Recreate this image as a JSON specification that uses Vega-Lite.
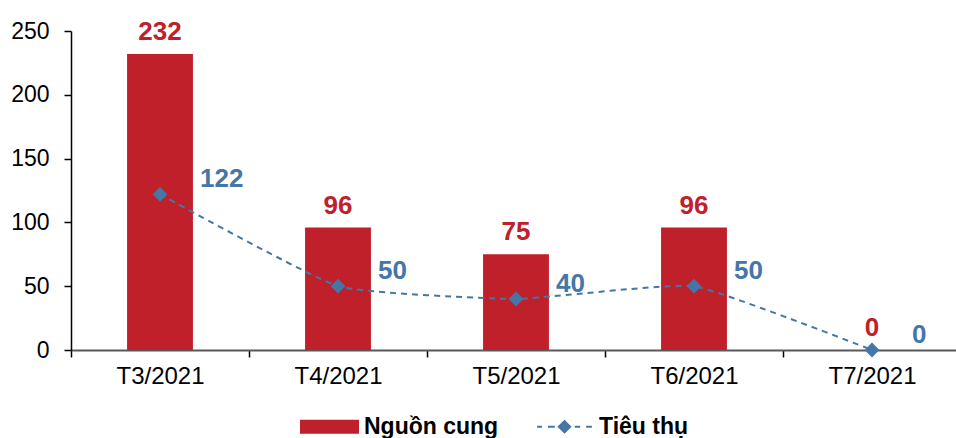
{
  "$schema": "https://vega.github.io/schema/vega-lite/v6.json",
  "width": 885,
  "height": 319,
  "autosize": {"type": "none"},
  "padding": {"left": 71, "top": 31, "right": 0, "bottom": 88},
  "background": "white",
  "config": {
    "view": {"stroke": null},
    "font": "Liberation Sans"
  },
  "data": {
    "values": [
      {"thang": "T3/2021", "chuoi": "Nguồn cung", "gia_tri": 232},
      {"thang": "T4/2021", "chuoi": "Nguồn cung", "gia_tri": 96},
      {"thang": "T5/2021", "chuoi": "Nguồn cung", "gia_tri": 75},
      {"thang": "T6/2021", "chuoi": "Nguồn cung", "gia_tri": 96},
      {"thang": "T7/2021", "chuoi": "Nguồn cung", "gia_tri": 0},
      {"thang": "T3/2021", "chuoi": "Tiêu thụ", "gia_tri": 122},
      {"thang": "T4/2021", "chuoi": "Tiêu thụ", "gia_tri": 50},
      {"thang": "T5/2021", "chuoi": "Tiêu thụ", "gia_tri": 40},
      {"thang": "T6/2021", "chuoi": "Tiêu thụ", "gia_tri": 50},
      {"thang": "T7/2021", "chuoi": "Tiêu thụ", "gia_tri": 0}
    ]
  },
  "encoding": {
    "x": {
      "field": "thang",
      "type": "nominal",
      "sort": null,
      "title": null,
      "scale": {"range": [0, 890], "paddingInner": 0, "paddingOuter": 0},
      "axis": {
        "labelAngle": 0,
        "labelFontSize": 24,
        "labelColor": "#000000",
        "labelPadding": 7,
        "domainColor": "#595959",
        "domainWidth": 2,
        "tickColor": "#000000",
        "tickWidth": 1.5,
        "tickSize": 7,
        "tickBand": "extent"
      }
    },
    "y": {
      "field": "gia_tri",
      "type": "quantitative",
      "title": null,
      "scale": {"domain": [0, 250], "nice": false},
      "axis": {
        "values": [0, 50, 100, 150, 200, 250],
        "grid": false,
        "labelFontSize": 23,
        "labelColor": "#000000",
        "labelPadding": 15,
        "domainColor": "#000000",
        "domainWidth": 1.5,
        "tickColor": "#000000",
        "tickWidth": 1.5,
        "tickSize": 7
      }
    },
    "color": {
      "field": "chuoi",
      "type": "nominal",
      "scale": {"domain": ["Nguồn cung", "Tiêu thụ"], "range": ["#C0202A", "#4576A8"]},
      "legend": {
        "title": null,
        "orient": "none",
        "direction": "horizontal",
        "legendX": 229,
        "legendY": 366,
        "symbolSize": 3249,
        "labelFontSize": 23,
        "labelFontWeight": "bold",
        "labelColor": "#000000",
        "labelOffset": 5,
        "columnPadding": 34,
        "encode": {
          "symbols": {
            "update": {
              "shape": {"signal": "datum.value === 'Nguồn cung' ? 'M-1,-0.21H1V0.21H-1Z' : 'M-0.96,0H-0.79M-0.58,0H-0.34M0.36,0H0.55M0.76,0H0.96M-0.2,0L0,-0.2L0.2,0L0,0.2Z'"},
              "fill": {"signal": "datum.value === 'Nguồn cung' ? '#C0202A' : '#4576A8'"},
              "stroke": {"signal": "datum.value === 'Nguồn cung' ? 'transparent' : '#4576A8'"},
              "strokeWidth": {"value": 2},
              "size": {"value": 3249},
              "opacity": {"value": 1}
            }
          }
        }
      }
    }
  },
  "layer": [
    {
      "transform": [{"filter": "datum.chuoi === 'Nguồn cung'"}],
      "mark": {"type": "bar", "width": {"band": 0.37}}
    },
    {
      "transform": [{"filter": "datum.chuoi === 'Nguồn cung'"}],
      "mark": {"type": "text", "fontSize": 26, "fontWeight": "bold", "baseline": "alphabetic", "dy": -14},
      "encoding": {"text": {"field": "gia_tri", "type": "quantitative"}, "color": {"value": "#C0202A"}}
    },
    {
      "transform": [{"filter": "datum.chuoi === 'Tiêu thụ'"}],
      "mark": {
        "type": "line",
        "interpolate": "cardinal",
        "tension": 0.6,
        "strokeWidth": 2,
        "strokeDash": [6, 5],
        "point": {"shape": "diamond", "size": 220, "filled": true}
      }
    },
    {
      "transform": [{"filter": "datum.chuoi === 'Tiêu thụ'"}],
      "mark": {"type": "text", "fontSize": 26, "fontWeight": "bold", "align": "left", "baseline": "middle", "dx": 40, "dy": -15},
      "encoding": {"text": {"field": "gia_tri", "type": "quantitative"}, "color": {"value": "#4576A8"}}
    }
  ]
}
